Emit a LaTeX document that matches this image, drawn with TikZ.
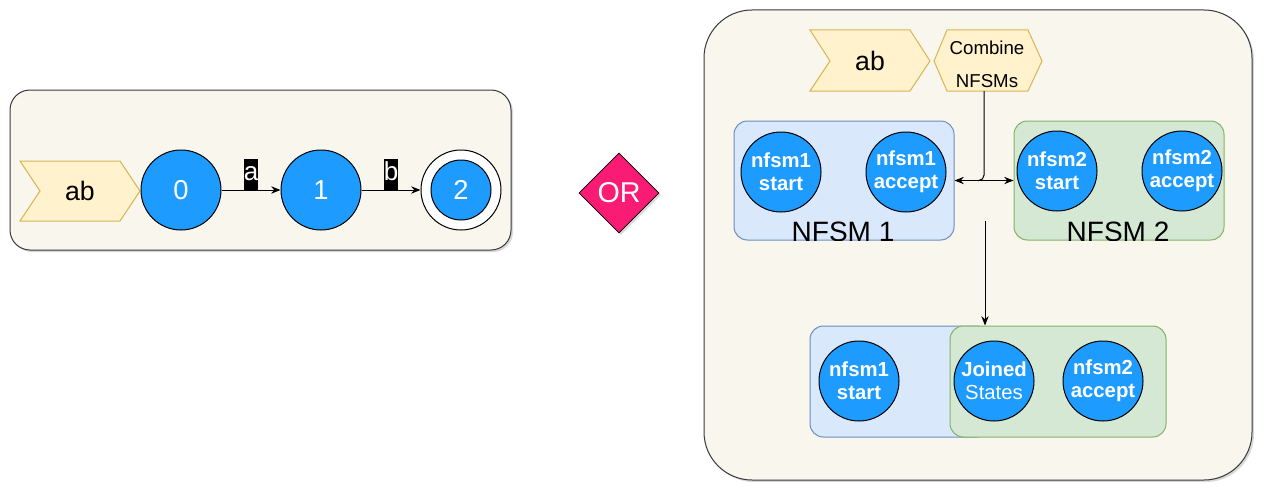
\documentclass[tikz,border=0pt]{standalone}
\usepackage{fontspec}
\setmainfont{Liberation Sans}
\usetikzlibrary{shapes.geometric,arrows.meta,shadows,positioning,calc}

\definecolor{boxfill}{HTML}{F9F7ED}
\definecolor{boxline}{HTML}{36393D}
\definecolor{chevfill}{HTML}{FFF2CC}
\definecolor{chevline}{HTML}{D6B656}
\definecolor{statefill}{HTML}{1E9BFF}
\definecolor{bluefill}{HTML}{DAE8FC}
\definecolor{blueline}{HTML}{6C8EBF}
\definecolor{greenfill}{HTML}{D5E8D4}
\definecolor{greenline}{HTML}{82B366}
\definecolor{orpink}{HTML}{FA1B74}

\begin{document}
\begin{tikzpicture}[x=0.75pt,y=-0.75pt,
  container/.style={draw=boxline,fill=boxfill,line width=0.75pt,drop shadow={shadow xshift=1.5pt,shadow yshift=-1.5pt,opacity=0.3}},
  chevron/.style={draw=chevline,fill=chevfill,line width=0.75pt},
  word/.style={font=\fontsize{20}{24}\selectfont},
  state/.style={circle,draw=black,fill=statefill,line width=0.75pt,minimum size=60pt,inner sep=0pt,text=white,font=\fontsize{20.5}{24}\selectfont},
  nstate/.style={state,align=center,font=\fontsize{15.25}{17.5}\selectfont\bfseries},
  trans/.style={-{Stealth[length=7pt,width=5.5pt]},line width=0.75pt},
  sym/.style={fill=black,text=white,inner sep=0pt,text height=16pt,text depth=7pt,font=\fontsize{19.5}{22}\selectfont},
  grpblue/.style={draw=blueline,fill=bluefill,line width=0.75pt,rounded corners=10pt,inner sep=0pt},
  grpgreen/.style={draw=greenline,fill=greenfill,line width=0.75pt,rounded corners=10pt,inner sep=0pt},
  grplabel/.style={anchor=base,font=\fontsize{21}{24}\selectfont}
]
  \fill[white] (0,0) rectangle (1276,503);
  \useasboundingbox (0,0) rectangle (1276,503);

  % single automaton
  \draw[container,rounded corners=15pt] (10,90) rectangle (511,250);
  \draw[chevron] (20,161) -- (120,161) -- (140,191) -- (120,221) -- (20,221) -- (40,191) -- cycle;
  \node[word] (word1) at (80,191) {ab};
  \node[state] (q0) at (181,190) {0};
  \node[state] (q1) at (321,190) {1};
  \node[circle,draw=black,fill=white,line width=0.75pt,minimum size=60pt,inner sep=0pt] (q2) at (461,190) {};
  \node[state,minimum size=45pt] (q2in) at (q2) {2};
  \draw[trans] (q0) -- node[sym,above] {a} (q1);
  \draw[trans] (q1) -- node[sym,above] {b} (q2);

  \node[diamond,aspect=1,fill=orpink,draw=black,line width=0.5pt,minimum width=60pt,minimum height=60pt,inner sep=0pt,
        text=white,font=\fontsize{21.5}{24}\selectfont,drop shadow={shadow xshift=1.5pt,shadow yshift=-1.5pt,opacity=0.3}] (or) at (619,193) {OR};

  % combined automata
  \draw[container,rounded corners=36pt] (704,10) rectangle (1252,480);
  \draw[chevron] (810,30) -- (910,30) -- (930,61) -- (910,91) -- (810,91) -- (830,61) -- cycle;
  \node[word] (word2) at (870,61) {ab};
  \draw[chevron] (934,61) -- (947,30) -- (1028,30) -- (1042,61) -- (1028,91) -- (947,91) -- cycle;
  \node[align=center,inner sep=0pt,font=\fontsize{14}{24.75}\selectfont] (combine) at (987,64) {Combine\\NFSMs};

  \node[grpblue,minimum width=165pt,minimum height=89.25pt] (nfsm1) at (844,180.5) {};
  \node[grpgreen,minimum width=157.5pt,minimum height=89.25pt] (nfsm2) at (1119,180.5) {};
  \begin{scope}
    \clip[rounded corners=10pt] (nfsm1.south west) rectangle (nfsm1.north east);
    \node[grplabel] (lbl1) at (843,241) {NFSM 1};
  \end{scope}
  \begin{scope}
    \clip[rounded corners=10pt] (nfsm2.south west) rectangle (nfsm2.north east);
    \node[grplabel] (lbl2) at (1118,241) {NFSM 2};
  \end{scope}
  \node[nstate] (n1start) at (781,172) {nfsm1\\start};
  \node[nstate] (n1acc) at (906,172) {nfsm1\\accept};
  \node[nstate] (n2start) at (1057,171) {nfsm2\\start};
  \node[nstate] (n2acc) at (1182,171) {nfsm2\\accept};

  \coordinate (combbot) at (984,91);
  \coordinate (join) at (978,180.5);
  \draw[line width=0.75pt,rounded corners=4pt] (combbot) |- (join);
  \draw[{Stealth[length=7pt,width=5.5pt]}-{Stealth[length=7pt,width=5.5pt]},line width=0.75pt] (nfsm1.east) -- (nfsm2.west);

  \node[grpblue,minimum width=135pt,minimum height=83.25pt] (merge1) at (900,381.5) {};
  \node[grpgreen,minimum width=162pt,minimum height=83.25pt] (merge2) at (1058,381.5) {};
  \node[nstate] (m1start) at (859,381) {nfsm1\\start};
  \node[nstate] (joined) at (994,381) {Joined\\{\mdseries States}};
  \node[nstate] (m2acc) at (1103,381) {nfsm2\\accept};

  \coordinate (mergetop) at (985,221);
  \draw[trans] (mergetop) -- (mergetop |- merge2.north);
\end{tikzpicture}
\end{document}
